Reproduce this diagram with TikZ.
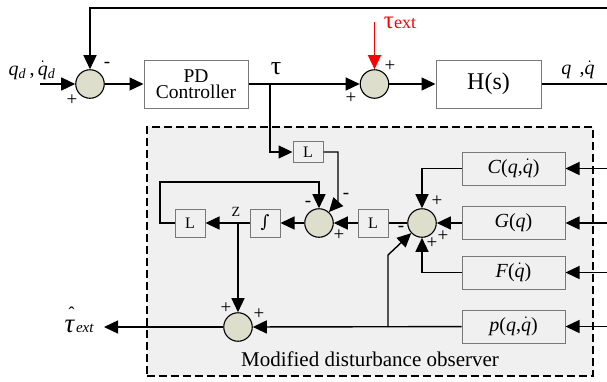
\documentclass[tikz,border=0pt]{standalone}
\usepackage{fontspec}
\setmainfont{Liberation Serif}
\newfontfamily\djs{DejaVu Serif}
\usetikzlibrary{arrows.meta}
\definecolor{sumfill}{RGB}{221,222,204}
\definecolor{obsbg}{RGB}{240,240,240}
\definecolor{boxline}{RGB}{120,120,120}
\newcommand{\fs}[1]{\fontsize{#1}{#1}\selectfont}
\newcommand{\iq}{\textit{q}}
\newcommand{\dq}{$\dot{\mbox{\itshape q}}$}
\begin{document}
\begin{tikzpicture}[x=1pt,y=-1pt,
  line width=1.4pt,
  arr/.style={-{Triangle[length=14pt,width=13pt]}},
  sumnode/.style={circle,draw=black,fill=sumfill,line width=1.1pt,minimum size=28.5pt,inner sep=0pt},
  mainbox/.style={draw=boxline,fill=white,line width=1pt,inner sep=0pt,align=center},
  obsbox/.style={draw=boxline,line width=1pt,inner sep=0pt,align=center,minimum width=103pt,minimum height=33pt,font=\fs{20}},
  lbox/.style={draw=boxline,line width=1pt,inner sep=0pt,minimum width=30pt,font=\fs{16}},
  sgn/.style={inner sep=0pt,font=\fs{19}},
]
\useasboundingbox (0,0) rectangle (607,381);
% observer background
\node[draw=black,fill=obsbg,line width=1.4pt,dash pattern=on 8pt off 4pt,minimum width=446pt,minimum height=249pt,inner sep=0pt] (obs) at (370,251.5) {};
\node[anchor=base,inner sep=0pt,font=\fs{21}] (obslab) at (370,366) {Modified disturbance observer};

% top loop
\node[sumnode] (s1) at (90,84) {};
\node[mainbox,minimum width=104pt,minimum height=48pt,font=\fs{19.5}] (pd) at (196,84) {PD\\[-3pt]Controller};
\node[sumnode] (s2) at (374.5,84) {};
\node[mainbox,minimum width=105pt,minimum height=48pt,font=\fs{24}] (H) at (488.5,84) {H(s)};
\coordinate (in) at (40,84);
\coordinate (outR) at (607,84);
\coordinate (fbR) at (607,8);
\coordinate (fbL) at (90,8);
\coordinate (tin) at (374.5,22);
\coordinate (tap1) at (270,84);

\draw[arr] (in) -- (s1);
\draw[arr] (s1) -- (pd);
\draw[arr] (pd) -- (s2);
\draw[arr] (s2) -- (H);
\draw (H) -- (outR);
\draw[arr] (fbR) -- (fbL) -- (s1);
\draw[arr,red] (tin) -- (s2);

\node[inner sep=0pt,font=\fs{20}] (lqd) at (32,70.5) {\iq\textsubscript{\textit{d}}\,,\,$\dot{\mbox{\itshape q}}$\textsubscript{\textit{d}}};
\node[sgn] (p1) at (72,100) {+};
\node[sgn] (m1) at (107,65) {-};
\node[inner sep=0pt,font=\fs{26}] (ltau) at (276,69) {τ};
\node[inner sep=0pt,text=red] (ltext) at (400,23) {{\fs{25}τ}{\fs{18}ext}};
\node[sgn] (p2) at (390,66) {+};
\node[sgn] (p3) at (351,98) {+};
\node[inner sep=0pt,font=\fs{20}] (lq) at (578,70) {\iq\ \,,\dq};

% observer inner
\node[lbox,minimum height=21pt] (L1) at (308,152) {L};
\node[sumnode] (s3) at (319,223) {};
\node[lbox,minimum height=28pt] (L4) at (373,223) {L};
\node[sumnode] (s4) at (422,223) {};
\node[lbox,minimum height=28pt,font=\fs{17}\djs] (int) at (265,223) {∫};
\node[lbox,minimum height=28pt] (L3) at (190,223) {L};
\node[sumnode] (s5) at (238,327) {};

\node[obsbox] (C) at (513.5,168.5) {\textit{C}(\iq,\dq)};
\node[obsbox] (G) at (513.5,223) {\textit{G}(\iq)};
\node[obsbox] (F) at (513.5,272.5) {\textit{F}(\dq)};
\node[obsbox] (P) at (513.5,326.5) {\textit{p}(\iq,\dq)};

\coordinate (k1) at (338,202);
\coordinate (k2) at (160,182);
\coordinate (tapZ) at (238,223);
\coordinate (thout) at (104,327);
\coordinate (tapP) at (388,327);
\coordinate (k3) at (388,255);
\coordinate (rC) at (607,168.5);
\coordinate (rG) at (607,223);
\coordinate (rF) at (607,272.5);
\coordinate (rP) at (607,326.5);

\draw[arr] (tap1) |- (L1);
\draw[arr] (L1) -| (k1) -- (s3);
\draw[arr] (L3.west) -| (k2) -| (s3);
\draw[arr] (L4) -- (s3);
\draw (s4) -- (L4);
\draw[arr] (s3) -- (int);
\draw[arr] (int) -- (L3);
\draw[arr] (tapZ) -- (s5);
\draw[arr] (s5) -- (thout);
\draw[arr] (P) -- (s5);
\draw[arr] (tapP) -- (k3) -- (s4);
\draw[arr] (C) -| (s4);
\draw[arr] (G) -- (s4);
\draw[arr] (F) -| (s4);
\draw[arr] (rC) -- (C);
\draw[arr] (rG) -- (G);
\draw[arr] (rF) -- (F);
\draw[arr] (rP) -- (P);

\node[inner sep=0pt,font=\fs{14}] (lz) at (236,212) {Z};
\node[sgn] (m3a) at (308,204) {-};
\node[sgn] (m3b) at (346,196) {-};
\node[sgn] (p3a) at (339,235) {+};
\node[sgn] (p4a) at (437,201) {+};
\node[sgn] (m4) at (401,229) {-};
\node[sgn] (p4b) at (432,243) {+};
\node[sgn] (p4c) at (443,236) {+};
\node[sgn] (p5a) at (226,308) {+};
\node[sgn] (p5b) at (259,314) {+};
\node[inner sep=0pt,anchor=base west] (lthat) at (64,332) {\makebox[0pt][l]{\raisebox{13pt}{\hspace{4pt}\fs{18}ˆ}}{\fs{27}\itshape τ}\,{\fs{15}\itshape ext}};
\end{tikzpicture}
\end{document}
